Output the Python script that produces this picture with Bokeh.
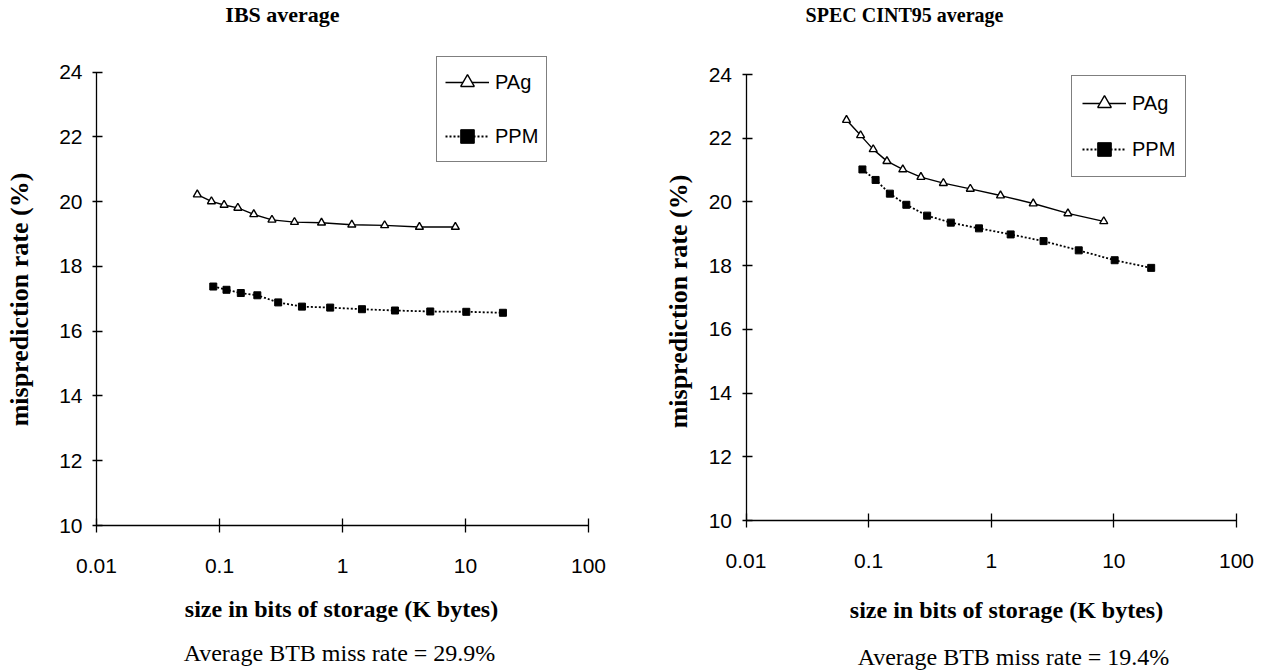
import math
from bokeh.plotting import figure
from bokeh.models import (Range1d, FixedTicker, CustomJSTickFormatter, Label,
                          Legend, LegendItem)
from bokeh.layouts import row
from bokeh.embed import file_html
from bokeh.resources import INLINE

# ---------------- data ----------------
pag_size_kb = [0.066, 0.086, 0.109, 0.141, 0.19, 0.267, 0.407, 0.675, 1.19, 2.2, 4.22, 8.27]
ppm_size_kb = [0.089, 0.114, 0.149, 0.203, 0.30, 0.468, 0.794, 1.44, 2.67, 5.17, 10.15, 20.15]

ibs_pag = [20.22, 20.01, 19.90, 19.81, 19.61, 19.44, 19.37, 19.35, 19.29, 19.27, 19.22, 19.22]
ibs_ppm = [17.38, 17.28, 17.18, 17.11, 16.89, 16.76, 16.73, 16.68, 16.64, 16.61, 16.60, 16.57]

spec_pag = [22.57, 22.09, 21.65, 21.28, 21.02, 20.78, 20.59, 20.41, 20.20, 19.95, 19.64, 19.39]
spec_ppm = [21.02, 20.69, 20.26, 19.91, 19.57, 19.35, 19.17, 18.98, 18.77, 18.48, 18.17, 17.93]

x_ticks = [0.01, 0.1, 1, 10, 100]
y_ticks = [10, 12, 14, 16, 18, 20, 22, 24]

series_labels = ["PAg", "PPM"]
titles = ["IBS average", "SPEC CINT95 average"]
x_label = "size in bits of storage (K bytes)"
y_label = "misprediction rate (%)"
notes = ["Average BTB miss rate = 29.9%", "Average BTB miss rate = 19.4%"]

SANS = "'Liberation Sans', Arial, sans-serif"
SERIF = "'Liberation Serif', 'Times New Roman', serif"

W, H = 630, 670
X_MIN, X_MAX = x_ticks[0], x_ticks[-1]
Y_MIN, Y_MAX = y_ticks[0], y_ticks[-1]


def make_chart(fig_left, ax_left, ax_right, ax_top, ax_bottom, title, pag, ppm, note,
               title_pos, title_size, ylab_pos, xlab_pos, note_pos, leg_box,
               leg_pad, leg_spacing):
    """ax_* : page pixel positions of the axis extremes (x=0.01/100, y=24/10)."""
    cl, cr = ax_left - fig_left, ax_right - fig_left
    ct, cb = ax_top - 1, ax_bottom - 1
    dec = (cr - cl) / (math.log10(X_MAX) - math.log10(X_MIN))
    x0 = 10 ** (math.log10(X_MIN) - cl / dec)
    x1 = 10 ** (math.log10(X_MAX) + (W - cr) / dec)
    upx = (cb - ct) / (Y_MAX - Y_MIN)
    y0 = Y_MIN - (H - cb) / upx
    y1 = Y_MAX + ct / upx

    p = figure(width=W, height=H, x_axis_type="log", title=None,
               x_range=Range1d(x0, x1), y_range=Range1d(y0, y1),
               output_backend="svg", toolbar_location=None,
               min_border_left=0, min_border_right=0, min_border_top=0,
               min_border_bottom=0)
    p.outline_line_color = None
    p.xgrid.visible = False
    p.ygrid.visible = False
    p.background_fill_color = "white"
    p.border_fill_color = "white"

    xa, ya = p.xaxis[0], p.yaxis[0]
    xa.fixed_location = Y_MIN
    ya.fixed_location = X_MIN
    xa.bounds = (X_MIN, X_MAX)
    ya.bounds = (Y_MIN, Y_MAX)
    xa.ticker = FixedTicker(ticks=x_ticks)
    ya.ticker = FixedTicker(ticks=y_ticks)
    xa.formatter = CustomJSTickFormatter(code="return String(tick);")
    for ax in (xa, ya):
        ax.minor_tick_line_color = None
        ax.axis_line_color = "black"
        ax.axis_line_width = 1.3
        ax.major_tick_line_color = "black"
        ax.major_tick_line_width = 1.3
        ax.major_label_text_font = SANS
        ax.major_label_text_font_size = "21px"
        ax.major_label_text_color = "black"
    xa.major_tick_in = 7
    xa.major_tick_out = 7
    xa.major_label_standoff = 26
    ya.major_tick_in = 6
    ya.major_tick_out = 4
    ya.major_label_standoff = 10

    l1 = p.line(pag_size_kb, pag, line_color="black", line_width=1.4)
    s1 = p.scatter(pag_size_kb, pag, marker="triangle", size=8,
                   line_color="black", line_width=1.4, fill_color="white")
    l2 = p.line(ppm_size_kb, ppm, line_color="black", line_width=1.8, line_dash="2 2")
    s2 = p.scatter(ppm_size_kb, ppm, marker="square", size=7,
                   line_color="black", fill_color="black")

    legend = Legend(items=[LegendItem(label=series_labels[0], renderers=[l1, s1]),
                           LegendItem(label=series_labels[1], renderers=[l2, s2])],
                    location=(leg_box[0] - fig_left, H + 1 - leg_box[1]))
    legend.border_line_color = "black"
    legend.border_line_width = 1.3
    legend.background_fill_color = "white"
    legend.background_fill_alpha = 1
    legend.glyph_width = 44
    legend.glyph_height = 34
    legend.label_height = 34
    legend.label_standoff = 6
    legend.padding = leg_pad
    legend.spacing = leg_spacing
    legend.margin = 0
    legend.label_text_font = SANS
    legend.label_text_font_size = "20px"
    legend.label_text_color = "black"
    p.add_layout(legend)

    def lab(text, pos, size, bold, angle=0.0):
        p.add_layout(Label(x=pos[0] - fig_left, y=H + 1 - pos[1],
                           x_units="screen", y_units="screen",
                           text=text, text_align="center", text_baseline="middle",
                           text_font=SERIF, text_font_size=size,
                           text_font_style="bold" if bold else "normal",
                           text_color="black", angle=angle))

    lab(title, title_pos, title_size, True)
    lab(y_label, ylab_pos, "26px", True, angle=math.pi / 2)
    lab(x_label, xlab_pos, "24px", True)
    lab(note, note_pos, "24px", False)
    return p


p1 = make_chart(1, 97, 589, 72.7, 526, titles[0], ibs_pag, ibs_ppm, notes[0],
                title_pos=(283, 15), title_size="22px", ylab_pos=(20, 300),
                xlab_pos=(342, 609), note_pos=(340, 653), leg_box=(437, 163),
                leg_pad=8, leg_spacing=20)
p2 = make_chart(1 + W, 746.5, 1237, 75, 521, titles[1], spec_pag, spec_ppm, notes[1],
                title_pos=(905, 15), title_size="20px", ylab_pos=(679, 302),
                xlab_pos=(1007, 610), note_pos=(1014, 657), leg_box=(1072, 178),
                leg_pad=10, leg_spacing=12)

layout = row(p1, p2, spacing=0)
open("out.html", "w").write(file_html(layout, INLINE))
